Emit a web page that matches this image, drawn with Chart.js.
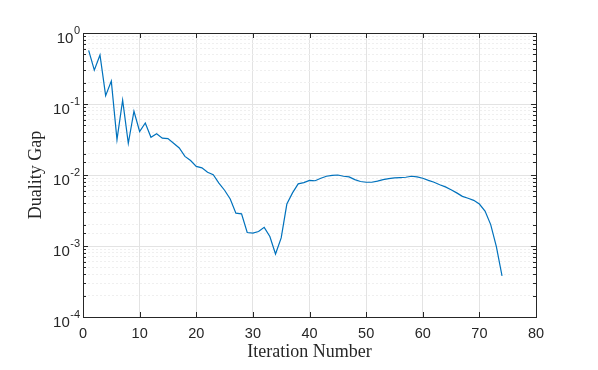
<!DOCTYPE html>
<html>
<head>
<meta charset="utf-8">
<script src="https://cdn.jsdelivr.net/npm/chart.js@4"></script>
<style>
  html, body { margin: 0; padding: 0; background: #fff; }
  #wrap { width: 598px; height: 370px; }
</style>
</head>
<body>
<div id="wrap"><canvas id="gap-canvas"></canvas></div>
<script>
var iterations = [];
for (var n = 1; n <= 74; n++) iterations.push(n);

var dualityGap = [
  0.57, 0.30, 0.49, 0.131, 0.21, 0.0315, 0.113, 0.028, 0.079, 0.041,
  0.054, 0.034, 0.038, 0.033, 0.0325, 0.028, 0.024, 0.0183, 0.0160, 0.0132,
  0.0126, 0.0109, 0.0101, 0.0077, 0.0061, 0.0046, 0.0029, 0.00284, 0.00155, 0.00152,
  0.0016, 0.00183, 0.00136, 0.00077, 0.0013, 0.0039, 0.0056, 0.0075, 0.0078, 0.0084,
  0.0083, 0.0090, 0.0096, 0.0099, 0.0100, 0.0096, 0.0094, 0.0086, 0.0081, 0.0079,
  0.0079, 0.0082, 0.0086, 0.0089, 0.0091, 0.0092, 0.0093, 0.0096, 0.0094, 0.0090,
  0.0084, 0.0079, 0.0073, 0.0068, 0.0062, 0.0056, 0.0050, 0.0047, 0.0044, 0.0039,
  0.0031, 0.0020, 0.00098, 0.00038
];

var xTicks = [0, 10, 20, 30, 40, 50, 60, 70, 80];
var yExponents = [0, -1, -2, -3, -4];

var axisColor = "#262626";

function isPow10(v) {
  var l = Math.log10(v);
  return Math.abs(l - Math.round(l)) < 1e-9;
}

// matlab style box, inward ticks and 10^n labels
var boxPlugin = {
  id: "matlabBox",
  afterDatasetsDraw: function(chart) {
    var ctx = chart.ctx;
    var a = chart.chartArea;
    var xs = chart.scales.x;
    var ys = chart.scales.y;
    ctx.save();
    ctx.strokeStyle = axisColor;
    ctx.lineWidth = 1;
    ctx.beginPath();
    ctx.moveTo(a.left, a.top + 0.5);
    ctx.lineTo(a.right + 0.5, a.top + 0.5);
    ctx.lineTo(a.right + 0.5, a.bottom);
    ctx.stroke();

    ctx.beginPath();
    xs.ticks.forEach(function(t) {
      var px = Math.round(xs.getPixelForValue(t.value)) + 0.5;
      ctx.moveTo(px, a.bottom);
      ctx.lineTo(px, a.bottom - 5);
      ctx.moveTo(px, a.top);
      ctx.lineTo(px, a.top + 5);
    });
    ys.ticks.forEach(function(t) {
      var py = Math.round(ys.getPixelForValue(t.value)) + 0.5;
      var len = isPow10(t.value) ? 5 : 3;
      ctx.moveTo(a.left, py);
      ctx.lineTo(a.left + len, py);
      ctx.moveTo(a.right, py);
      ctx.lineTo(a.right - len, py);
    });
    ctx.stroke();

    // y tick labels with real superscripts
    ctx.fillStyle = axisColor;
    ctx.textBaseline = "alphabetic";
    ctx.textAlign = "right";
    yExponents.forEach(function(e) {
      var py = ys.getPixelForValue(Math.pow(10, e));
      var right = a.left - 3;
      ctx.font = "11px 'Liberation Sans'";
      var expText = String(e);
      var w = ctx.measureText(expText).width;
      ctx.fillText(expText, right, py + 0.8);
      ctx.font = "15px 'Liberation Sans'";
      ctx.fillText("10", right - w - 0.5, py + 9.8);
    });
    ctx.restore();
  }
};

var gapChart = new Chart(document.getElementById("gap-canvas"), {
  type: "line",
  data: {
    labels: iterations,
    datasets: [
      {
        data: dualityGap,
        borderColor: "#0072BD",
        borderWidth: 1.2,
        pointRadius: 0,
        tension: 0,
        fill: false
      }
    ]
  },
  options: {
    responsive: true,
    maintainAspectRatio: false,
    animation: false,
    layout: { padding: { left: 0, right: 62, top: 33, bottom: 0 } },
    plugins: {
      legend: { display: false },
      tooltip: { enabled: false }
    },
    scales: {
      x: {
        type: "linear",
        min: 0,
        max: 80,
        afterBuildTicks: function(scale) {
          scale.ticks = xTicks.map(function(v) { return { value: v }; });
        },
        afterFit: function(scale) { scale.height = 53; },
        grid: { color: "#e3e3e3", drawTicks: false },
        border: { color: axisColor, width: 1 },
        ticks: {
          color: axisColor,
          padding: 8,
          font: { family: "Liberation Sans", size: 14.5 }
        },
        title: {
          display: true,
          text: "Iteration Number",
          color: axisColor,
          padding: { top: 0, bottom: 7 },
          font: { family: "Liberation Serif", size: 18 }
        }
      },
      y: {
        type: "logarithmic",
        min: 1e-4,
        max: 1,
        afterFit: function(scale) { scale.width = 83; },
        grid: {
          drawTicks: false,
          color: function(c) {
            if (c.tick && isPow10(c.tick.value)) return "#e3e3e3";
            return "#efefef";
          }
        },
        border: {
          color: axisColor,
          width: 1,
          dash: function(c) {
            if (c.tick && !isPow10(c.tick.value)) return [2, 2];
            return [];
          }
        },
        ticks: {
          display: false,
          autoSkip: false
        },
        title: {
          display: true,
          text: "Duality Gap",
          color: axisColor,
          padding: { top: 25, bottom: 0 },
          font: { family: "Liberation Serif", size: 18 }
        }
      }
    }
  },
  plugins: [boxPlugin]
});
</script>
</body>
</html>
